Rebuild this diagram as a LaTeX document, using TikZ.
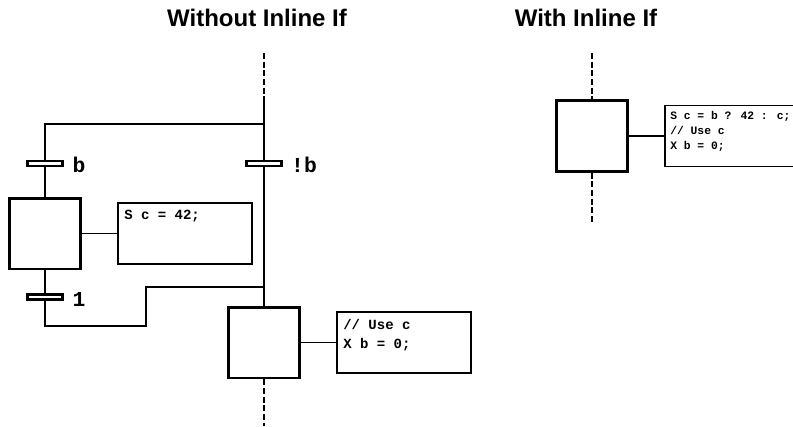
\documentclass[tikz,border=0pt]{standalone}
\usepackage{fontspec}
\setmainfont{Liberation Sans}
\newfontfamily\codefont{Liberation Mono}
\begin{document}
\begin{tikzpicture}[x=0.75pt,y=-0.75pt,
  conn/.style={line width=0.8pt},
  dashline/.style={line width=1.6pt, dash pattern=on 4.5pt off 2pt},
  stepbox/.style={draw, line width=2pt, minimum width=53.5pt, minimum height=53pt, inner sep=0pt, fill=white},
  actbox/.style={draw, line width=0.8pt, minimum width=100.5pt, minimum height=45.75pt, inner sep=0pt, fill=white},
  trans/.style={draw, line width=1.8pt, minimum width=26pt, minimum height=3.6pt, inner sep=0pt, fill=white},
  tlabel/.style={font=\codefont\bfseries\fontsize{16}{18}\selectfont, inner sep=0pt},
  code/.style={font=\codefont\bfseries\fontsize{10.5}{12}\selectfont, inner sep=0pt, anchor=base west},
  smallcode/.style={font=\codefont\bfseries\fontsize{8.5}{10}\selectfont, inner sep=0pt, anchor=base west},
  title/.style={font=\bfseries\fontsize{18}{20}\selectfont, inner sep=0pt}
]
\useasboundingbox (0,0) rectangle (793,426);
\clip (0,0) rectangle (793,426);

% titles
\node[title] (T1) at (257,18) {Without Inline If};
\node[title] (T2) at (586,18) {With Inline If};

% ---------- left diagram ----------
\coordinate (topL) at (264,53);
\coordinate (dL) at (264,100);
\coordinate (s1) at (264,124);
\coordinate (m1) at (264,287);
\coordinate (c1) at (146,326);
\coordinate (c2) at (146,287);
\coordinate (botL) at (264,426);

\node[trans] (nb) at (264,163.5) {};
\node[trans] (tb) at (45,163.5) {};
\node[stepbox] (L1) at (45,233.5) {};
\node[actbox] (A1) at (185,233.5) {};
\node[trans] (t1) at (45,297) {};
\node[stepbox] (L2) at (264,342.5) {};
\node[actbox] (A2) at (404,342.5) {};

\node[tlabel] (lb) at (79,165) {b};
\node[tlabel] (lnb) at (304,165) {!b};
\node[tlabel] (l1) at (79,299) {1};

\node[code] (A1a) at (124,219.5) {S c = 42;};
\node[code] (A2a) at (343,329.5) {// Use c};
\node[code] (A2b) at (343,348.5) {X b = 0;};

\draw[dashline] (topL) -- (dL);
\draw[conn] (dL) -- (nb.north);
\draw[conn] (s1) -| (tb.north);
\draw[conn] (tb.south) -- (L1.north);
\draw[conn] (L1.east) -- (A1.west);
\draw[conn] (L1.south) -- (t1.north);
\draw[conn] (t1.south) |- (c1) -- (c2) -- (m1);
\draw[conn] (nb.south) -- (L2.north);
\draw[conn] (L2.east) -- (A2.west);
\draw[dashline] (L2.south) -- (botL);

% ---------- right diagram ----------
\coordinate (topR) at (592,53);
\coordinate (botR) at (592,222);
\node[stepbox] (R) at (592,136) {};
\node[actbox, minimum width=105pt] (AR) at (735,136) {};
\node[smallcode] (ARa) at (670,119.5) {S c = b ? 42 : c;};
\node[smallcode] (ARb) at (670,134.5) {// Use c};
\node[smallcode] (ARc) at (670,149.5) {X b = 0;};

\draw[dashline] (topR) -- (R.north);
\draw[dashline] (R.south) -- (botR);
\draw[conn] (R.east) -- (AR.west);
\end{tikzpicture}
\end{document}
